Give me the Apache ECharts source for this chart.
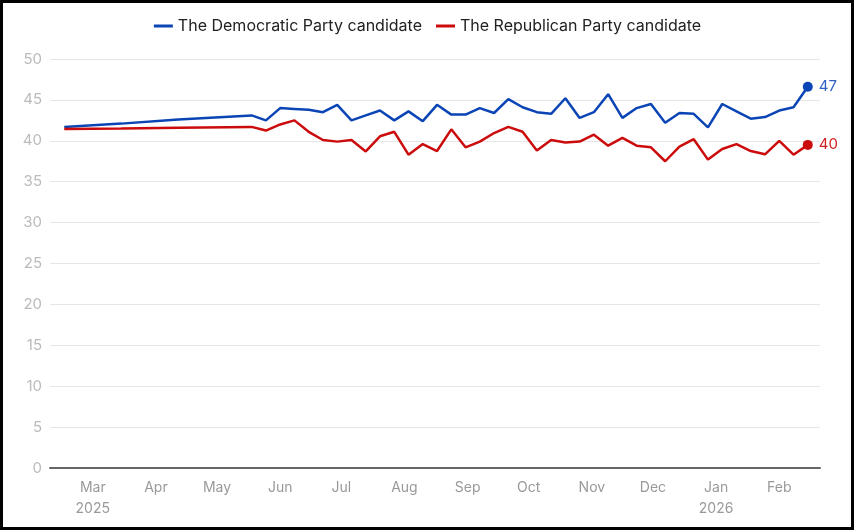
<!DOCTYPE html>
<html>
<head>
<meta charset="utf-8">
<script src="https://cdn.jsdelivr.net/npm/echarts@6/dist/echarts.min.js"></script>
<style>
  html, body { margin: 0; padding: 0; background: #fff; }
  #chart { position: absolute; left: 0; top: 0; width: 855px; height: 532px; }
  #frame { position: absolute; left: 0; top: 0; width: 854px; height: 530px; box-sizing: border-box;
           border: 3px solid #000; pointer-events: none; }
</style>
</head>
<body>
<div id="chart"></div>
<div id="frame"></div>
<script>
// poll dates (weekly from late May)
var dates = ['2025-02-15', '2025-03-15', '2025-04-12', '2025-05-18',
  '2025-05-25', '2025-06-01', '2025-06-08', '2025-06-15', '2025-06-22', '2025-06-29',
  '2025-07-06', '2025-07-13', '2025-07-20', '2025-07-27',
  '2025-08-03', '2025-08-10', '2025-08-17', '2025-08-24', '2025-08-31',
  '2025-09-07', '2025-09-14', '2025-09-21', '2025-09-28',
  '2025-10-05', '2025-10-12', '2025-10-19', '2025-10-26',
  '2025-11-02', '2025-11-09', '2025-11-16', '2025-11-23', '2025-11-30',
  '2025-12-07', '2025-12-14', '2025-12-21', '2025-12-28',
  '2026-01-04', '2026-01-11', '2026-01-18', '2026-01-25',
  '2026-02-01', '2026-02-08', '2026-02-15'];

var dem = [41.7, 42.1, 42.6, 43.1,
  42.5, 44.0, 43.9, 43.8, 43.5, 44.4,
  42.5, 43.1, 43.7, 42.5,
  43.6, 42.4, 44.4, 43.2, 43.2,
  44.0, 43.4, 45.1, 44.1,
  43.5, 43.3, 45.2, 42.8,
  43.5, 45.7, 42.8, 44.0, 44.5,
  42.2, 43.4, 43.3, 41.65,
  44.5, 43.6, 42.7, 42.9,
  43.7, 44.1, 46.6];

var rep = [41.45, 41.5, 41.6, 41.7,
  41.25, 42.0, 42.5, 41.1, 40.1, 39.9,
  40.1, 38.7, 40.55, 41.1,
  38.3, 39.6, 38.75, 41.4, 39.2,
  39.9, 40.95, 41.7, 41.1,
  38.8, 40.1, 39.8, 39.9,
  40.75, 39.4, 40.35, 39.4, 39.2,
  37.5, 39.3, 40.2, 37.7,
  39.0, 39.6, 38.75, 38.35,
  40.0, 38.3, 39.5];

var monthTicks = ['2025-03-01', '2025-04-01', '2025-05-01', '2025-06-01', '2025-07-01', '2025-08-01',
  '2025-09-01', '2025-10-01', '2025-11-01', '2025-12-01', '2026-01-01', '2026-02-01'];
var monthNames = ['Jan', 'Feb', 'Mar', 'Apr', 'May', 'Jun', 'Jul', 'Aug', 'Sep', 'Oct', 'Nov', 'Dec'];

var blue = '#0b45b5';
var red = '#cc0c0c';

function ms(s) { return Date.parse(s); }
function pairs(vals) {
  return vals.map(function (v, i) { return [ms(dates[i]), v]; });
}
function lastPoint(vals) {
  return [[ms(dates[dates.length - 1]), vals[vals.length - 1]]];
}

var myChart = echarts.init(document.getElementById('chart'));
var option = {
  animation: false,
  textStyle: { fontFamily: 'Inter, Roboto, sans-serif' },
  legend: {
    top: 13,
    left: 'center',
    icon: 'rect',
    itemWidth: 19,
    itemHeight: 3,
    itemGap: 14,
    data: ['The Democratic Party candidate', 'The Republican Party candidate'],
    textStyle: { fontSize: 16, color: '#222' }
  },
  grid: { left: 50, right: 35, top: 59, bottom: 64 },
  xAxis: {
    type: 'value',
    min: ms('2025-02-08'),
    max: ms('2026-02-21'),
    axisLine: { lineStyle: { color: '#666', width: 2 } },
    axisTick: { show: false },
    splitLine: { show: false },
    axisLabel: {
      customValues: monthTicks.map(ms),
      color: '#999',
      fontSize: 14,
      lineHeight: 21,
      margin: 9,
      formatter: function (value) {
        var d = new Date(value);
        var m = d.getUTCMonth();
        var y = d.getUTCFullYear();
        var s = monthNames[m];
        if ((y === 2025 && m === 2) || m === 0) {
          s += '\n' + y;
        }
        return s;
      }
    }
  },
  yAxis: {
    type: 'value',
    min: 0,
    max: 50,
    interval: 5,
    axisLine: { show: false },
    axisTick: { show: false },
    axisLabel: { color: '#bbb', fontSize: 15, margin: 8 },
    splitLine: { lineStyle: { color: '#e6e6e6', width: 1 } }
  },
  series: [
    {
      name: 'The Democratic Party candidate',
      type: 'line',
      symbol: 'none',
      color: blue,
      lineStyle: { width: 2.5 },
      data: pairs(dem)
    },
    {
      name: 'The Republican Party candidate',
      type: 'line',
      symbol: 'none',
      color: red,
      lineStyle: { width: 2.5 },
      data: pairs(rep)
    },
    {
      type: 'scatter',
      symbolSize: 10,
      itemStyle: { color: blue, opacity: 1 },
      label: { show: true, position: 'right', distance: 6, color: '#2f5fc4', fontSize: 15,
               formatter: function (p) { return Math.round(p.value[1]); } },
      data: lastPoint(dem)
    },
    {
      type: 'scatter',
      symbolSize: 10,
      itemStyle: { color: red, opacity: 1 },
      label: { show: true, position: 'right', distance: 6, color: '#d02020', fontSize: 15,
               formatter: function (p) { return Math.round(p.value[1]); } },
      data: lastPoint(rep)
    }
  ]
};
myChart.setOption(option);
</script>
</body>
</html>
